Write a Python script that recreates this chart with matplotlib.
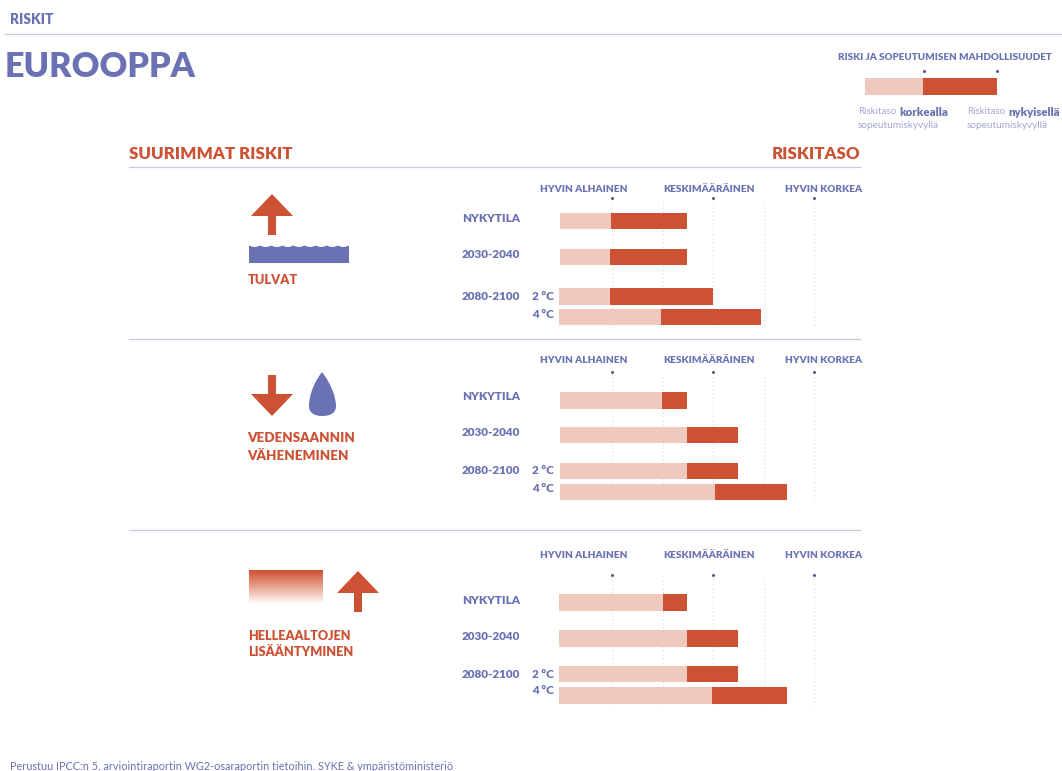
import numpy as np
import matplotlib
matplotlib.use("Agg")
from matplotlib import pyplot as plt
from matplotlib.path import Path
from matplotlib.patches import PathPatch, Polygon
from matplotlib.colors import LinearSegmentedColormap

plt.rcParams['font.family'] = ['Lato', 'DejaVu Sans']

W, H = 1062, 771
PURPLE = '#6a72b4'
RED = '#cc5233'
PINK = '#f0c9be'
LINE = '#c8cbe4'
GRID = '#dcdcdc'
PALE = '#a3a7d0'

# risk scale: 1 = hyvin alhainen, 3 = keskimaarainen, 5 = hyvin korkea
scale_ticks = [1, 3, 5]
scale_labels = ['HYVIN ALHAINEN', 'KESKIMÄÄRÄINEN', 'HYVIN KORKEA']
label_shift = [-0.56, -0.07, 0.19]  # headers do not sit centred over their dots
grid_levels = [1, 2, 3, 4, 5]
row_labels = ['NYKYTILA', '2030-2040', '2080-2100', '']
temp_labels = ['', '', '2 °C', '4 °C']

tulvat_start = [-0.03, -0.03, -0.05, -0.05]
tulvat_split = [0.98, 0.96, 0.96, 1.97]
tulvat_end = [2.49, 2.49, 3.00, 3.95]

vesi_start = [-0.03, -0.03, -0.03, -0.03]
vesi_split = [1.99, 2.49, 2.49, 3.04]
vesi_end = [2.49, 3.50, 3.50, 4.47]

helle_start = [-0.05, -0.05, -0.05, -0.05]
helle_split = [2.01, 2.49, 2.49, 2.98]
helle_end = [2.49, 3.50, 3.50, 4.47]

legend_start = 0.216
legend_split = 1.0
legend_end = 2.0

fig = plt.figure(figsize=(W / 100, H / 100), dpi=100)
bg = fig.add_axes([0, 0, 1, 1])
bg.set_xlim(0, W)
bg.set_ylim(H, 0)
bg.axis('off')


def panel(header_y, dot_y, grid_bottom, rows, labels_y, start, split, end):
    # axes spans the bars area, x in risk units, y in figure pixels
    left, right = 530, 870
    top, bottom = header_y - 10, grid_bottom + 2
    ax = fig.add_axes([left / W, 1 - bottom / H, (right - left) / W, (bottom - top) / H])
    ax.set_xlim(1 + (left - 612) / 101 * 2, 1 + (right - 612) / 101 * 2)
    ax.set_ylim(bottom, top)
    ax.axis('off')
    ax.patch.set_alpha(0)
    for g in grid_levels:
        ax.plot([g, g], [dot_y + 5, grid_bottom], color=GRID, lw=0.7, ls=(0, (1.5, 2.5)), zorder=0)
    start, split, end = np.array(start), np.array(split), np.array(end)
    ax.barh(rows, split - start, left=start, height=16.5, color=PINK, zorder=1)
    ax.barh(rows, end - split, left=split, height=16.5, color=RED, zorder=2)
    for t, lab, sh in zip(scale_ticks, scale_labels, label_shift):
        ax.text(t + sh, header_y, lab, ha='center', va='center', fontsize=7.2,
                fontweight='heavy', color=PURPLE)
        ax.plot([t], [dot_y], 'o', ms=1.2, color='#555c96')
    for lab, temp, ly in zip(row_labels, temp_labels, labels_y):
        bg.text(520, ly, lab, ha='right', va='center', fontsize=8.4, fontweight='heavy', color=PURPLE)
        bg.text(554, ly, temp, ha='right', va='center', fontsize=8.4, fontweight='heavy', color=PURPLE)


def arrow(cx, top, bottom, up=True):
    # block arrow, head 42 wide and 22 tall
    head = 22
    if up:
        pts = [(cx, top), (cx + 21, top + head), (cx + 4, top + head), (cx + 4, bottom),
               (cx - 4, bottom), (cx - 4, top + head), (cx - 21, top + head)]
    else:
        pts = [(cx, bottom), (cx + 21, bottom - head), (cx + 4, bottom - head), (cx + 4, top),
               (cx - 4, top), (cx - 4, bottom - head), (cx - 21, bottom - head)]
    bg.add_patch(Polygon(pts, closed=True, fc=RED, ec='none'))


# header
bg.text(10, 19.5, 'RISKIT', ha='left', va='center', fontsize=9.8, fontweight='heavy', color=PURPLE)
bg.plot([5, 1062], [33.5, 33.5], color=LINE, lw=0.9)
bg.text(5, 67, 'EUROOPPA', ha='left', va='center', fontsize=24.6, fontweight='heavy', color=PURPLE)

# legend
bg.text(1052, 58, 'RISKI JA SOPEUTUMISEN MAHDOLLISUUDET', ha='right', va='center',
        fontsize=7.15, fontweight='heavy', color=PURPLE)
leg = fig.add_axes([865 / W, 1 - 95 / H, 132 / W, 17 / H])
leg.set_xlim(legend_start, legend_end)
leg.set_ylim(0, 1)
leg.axis('off')
leg.barh([0.5], [legend_split - legend_start], left=legend_start, height=1, color=PINK)
leg.barh([0.5], [legend_end - legend_split], left=legend_split, height=1, color=RED)
bg.plot([923.5, 997], [71, 71], 'o', ms=1.2, color='#555c96')
bg.text(858, 112, 'Riskitaso', ha='left', va='center', fontsize=7, color=PALE)
bg.text(899, 112, 'korkealla', ha='left', va='center', fontsize=8.4, color=PURPLE, fontweight='heavy')
bg.text(858, 126, 'sopeutumiskyvyllä', ha='left', va='center', fontsize=7.2, color=PALE)
bg.text(967, 112, 'Riskitaso', ha='left', va='center', fontsize=7, color=PALE)
bg.text(1008.5, 112, 'nykyisellä', ha='left', va='center', fontsize=8.2, color=PURPLE, fontweight='heavy')
bg.text(967, 126, 'sopeutumiskyvyllä', ha='left', va='center', fontsize=7.2, color=PALE)

# section heads
bg.text(129, 154, 'SUURIMMAT RISKIT', ha='left', va='center', fontsize=12.2, fontweight='heavy', color=RED)
bg.text(860, 154, 'RISKITASO', ha='right', va='center', fontsize=12.2, fontweight='heavy', color=RED)
for y in [167, 338.5, 530]:
    bg.plot([129, 860], [y, y], color=LINE, lw=0.9)

# panels
panel(189, 198, 326, [221, 257, 296.5, 317], [218, 254, 297, 315],
      tulvat_start, tulvat_split, tulvat_end)
panel(360, 372, 499, [400.5, 435, 471, 492], [397, 433, 471, 489],
      vesi_start, vesi_split, vesi_end)
panel(555, 575, 705, [602.5, 638.5, 674, 695.5], [601, 637, 674, 691],
      helle_start, helle_split, helle_end)

# tulvat icon
arrow(272, 194, 235)
xs = np.linspace(249, 349, 201)
ys = 245.5 + 1.5 * np.abs(np.sin((xs - 249) / 100 * 9 * np.pi))
wave = list(zip(xs, ys)) + [(349, 263), (249, 263)]
bg.add_patch(Polygon(wave, closed=True, fc=PURPLE, ec='none'))
bg.text(248, 280, 'TULVAT', ha='left', va='center', fontsize=9.2, fontweight='heavy', color=RED)

# vesi icon
arrow(272, 375, 416, up=False)
drop = Path([(322, 372), (312, 385), (309, 398), (309, 406), (309, 414), (316, 416), (322, 416),
             (329, 416), (336, 414), (336, 406), (336, 398), (332, 385), (322, 372)],
            [Path.MOVETO] + [Path.CURVE4] * 12)
bg.add_patch(PathPatch(drop, fc=PURPLE, ec='none'))
bg.text(247.5, 438.5, 'VEDENSAANNIN', ha='left', va='center', fontsize=9.6, fontweight='heavy', color=RED)
bg.text(247.5, 455.5, 'VÄHENEMINEN', ha='left', va='center', fontsize=9.6, fontweight='heavy', color=RED)

# helle icon
fade = LinearSegmentedColormap.from_list('fade', [RED, '#e9a48f', '#ffffff'])
bg.imshow(np.linspace(0, 1, 64).reshape(-1, 1), cmap=fade, aspect='auto',
          extent=[249, 323, 604, 570], zorder=1)
bg.set_xlim(0, W)
bg.set_ylim(H, 0)
arrow(358, 571, 612)
bg.text(248.5, 635.5, 'HELLEAALTOJEN', ha='left', va='center', fontsize=9.1, fontweight='heavy', color=RED)
bg.text(248.5, 652.5, 'LISÄÄNTYMINEN', ha='left', va='center', fontsize=9.2, fontweight='heavy', color=RED)

# source
bg.text(10, 767, 'Perustuu IPCC:n 5. arviointiraportin WG2-osaraportin tietoihin. SYKE & ympäristöministeriö',
        ha='left', va='center', fontsize=7.8, color=PURPLE)

fig.savefig('out.png', dpi=100)
